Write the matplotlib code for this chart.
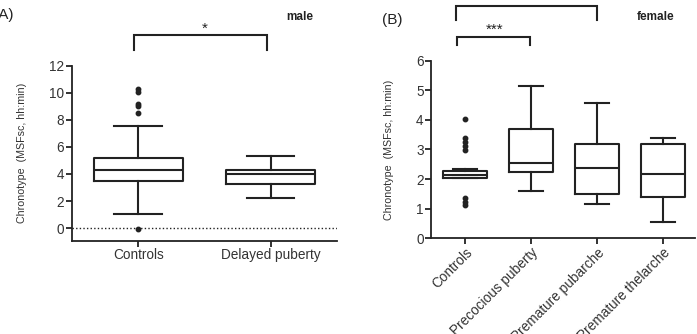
"""Chronotype box plots, male and female panels."""
import matplotlib
matplotlib.use("Agg")
import matplotlib.pyplot as plt

plt.rcParams['font.family'] = ['Liberation Sans', 'DejaVu Sans']

INK = '#222222'
TXT = '#333333'

# Panel A (male)
male_groups = ['Controls', 'Delayed puberty']
male_q1 = [3.5, 3.26]
male_med = [4.28, 4.0]
male_q3 = [5.2, 4.33]
male_lo = [1.03, 2.2]
male_hi = [7.55, 5.3]
male_fliers = [[10.25, 10.05, 9.2, 9.0, 8.53, -0.07], []]

# Panel B (female)
female_groups = ['Controls', 'Precocious puberty', 'Premature pubarche',
                 'Premature thelarche']
female_q1 = [2.02, 2.24, 1.50, 1.39]
female_med = [2.15, 2.53, 2.36, 2.17]
female_q3 = [2.28, 3.68, 3.19, 3.18]
female_lo = [2.02, 1.58, 1.16, 0.55]
female_hi = [2.33, 5.15, 4.57, 3.40]
female_fliers = [[4.02, 3.38, 3.26, 3.13, 2.98, 1.35, 1.23, 1.12],
                 [], [], []]


def make_stats(groups, q1, med, q3, lo, hi, fliers):
    return [dict(label=g, q1=a, med=m, q3=b, whislo=l, whishi=h, fliers=f)
            for g, a, m, b, l, h, f in zip(groups, q1, med, q3, lo, hi, fliers)]


def style_axes(ax):
    for side in ['top', 'right']:
        ax.spines[side].set_visible(False)
    for side in ['left', 'bottom']:
        ax.spines[side].set_linewidth(1.3)
        ax.spines[side].set_color(INK)
    ax.tick_params(direction='out', length=4, width=1.3, color=INK,
                   labelcolor=TXT, labelsize=9.8, pad=1.5)


def draw_box(ax, stats):
    line = dict(color=INK, linewidth=1.5)
    ax.bxp(stats, positions=range(len(stats)), widths=0.67,
           boxprops=line, whiskerprops=line, capprops=line,
           medianprops=line, capwidths=0.36,
           flierprops=dict(marker='o', markersize=3.2, markerfacecolor=INK,
                           markeredgecolor=INK, linestyle='none'))


def bracket(ax, x0, x1, ytop, ybot):
    ax.plot([x0, x0, x1, x1], [ybot, ytop, ytop, ybot], color=INK,
            lw=1.5, clip_on=False, solid_joinstyle='miter')


fig = plt.figure(figsize=(6.97, 3.34), dpi=100)

# ---- Panel A
axA = fig.add_axes([0.1033, 0.2793, 0.380, 0.524])
draw_box(axA, make_stats(male_groups, male_q1, male_med, male_q3,
                         male_lo, male_hi, male_fliers))
axA.axhline(0, ls=(0, (1.0, 1.6)), color=INK, lw=1.0, zorder=0)
axA.set_xlim(-0.5, 1.5)
axA.set_ylim(-0.93, 12)
axA.set_yticks([0, 2, 4, 6, 8, 10, 12])
axA.set_xticklabels(male_groups)
style_axes(axA)
axA.set_ylabel('Chronotype  (MSFsc, hh:min)', fontsize=7.7, color=TXT,
               labelpad=16)
bracket(axA, -0.03, 0.97, 14.26, 13.16)
axA.text(0.5, 14.7, '*', ha='center', va='center', fontsize=11, color=INK)

# ---- Panel B
axB = fig.add_axes([0.6188, 0.2874, 0.3783, 0.530])
draw_box(axB, make_stats(female_groups, female_q1, female_med, female_q3,
                         female_lo, female_hi, female_fliers))
axB.set_xlim(-0.51, 3.48)
axB.set_ylim(0, 6)
axB.set_yticks([0, 1, 2, 3, 4, 5, 6])
axB.set_xticklabels(female_groups, rotation=45, ha='right',
                    rotation_mode='anchor')
style_axes(axB)
axB.set_ylabel('Chronotype  (MSFsc, hh:min)', fontsize=7.7, color=TXT,
               labelpad=16)
bracket(axB, -0.13, 2.0, 7.86, 7.39)
bracket(axB, -0.12, 0.98, 6.81, 6.54)
axB.text(0.45, 7.05, '***', ha='center', va='center', fontsize=11, color=INK)

# panel titles
fig.text(0.020, 0.955, '(A)', ha='right', va='center', fontsize=11, color=INK)
fig.text(0.563, 0.940, '(B)', ha='center', va='center', fontsize=11,
         color=INK)
fig.text(0.430, 0.949, 'male', ha='center', va='center', fontsize=8.5,
         fontweight='bold', color=INK)
fig.text(0.941, 0.949, 'female', ha='center', va='center', fontsize=8.5,
         fontweight='bold', color=INK)

fig.savefig('out.png', dpi=100)
